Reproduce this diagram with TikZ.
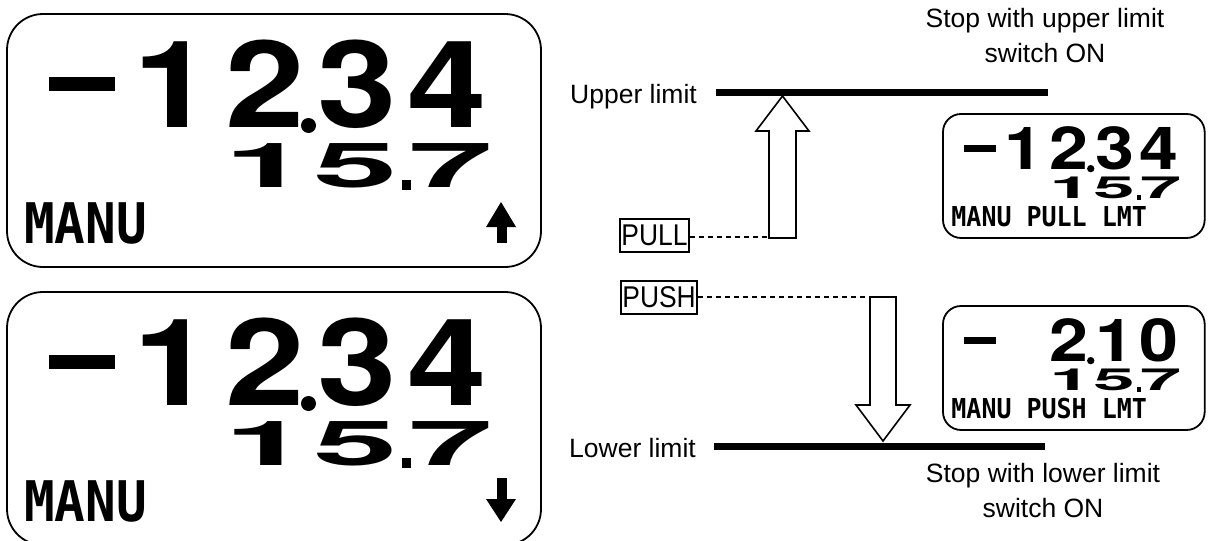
\documentclass[tikz,border=0pt]{standalone}
\usepackage{fontspec}
\setmainfont{Liberation Sans}
\newfontfamily\pixfont{DejaVu Sans Mono}
\newfontfamily\digfont{TeX Gyre Heros}
\tikzset{
  lcdframe/.style={draw, line width=1.8pt},
  bigdig/.style={inner sep=0pt, anchor=base, text height=86pt, text depth=0pt, font=\digfont\bfseries\fontsize{121}{121}\selectfont},
  middig/.style={inner sep=0pt, anchor=base, text height=44pt, text depth=0pt, font=\digfont\bfseries\fontsize{62}{62}\selectfont},
  pixtext/.style={inner sep=0pt, anchor=base west, text height=41pt, text depth=0pt, font=\pixfont\bfseries\fontsize{56}{56}\selectfont},
  lbl/.style={inner sep=0pt, font=\fontsize{26.5}{35}\selectfont},
  keybox/.style={draw, line width=1.8pt, inner sep=1.5pt, text height=24.5pt, text depth=5.5pt, font=\fontsize{30}{32}\selectfont},
  blockarrow/.style={draw, line width=1.6pt, fill=white, line join=miter},
  limitbar/.style={line width=7pt},
  dashline/.style={line width=1.2pt, dash pattern=on 5pt off 4pt}
}
% display core: #1 prefix, #2 corner radius, #3-#6 digits
\newcommand\lcdcore[6]{%
  \draw[lcdframe, rounded corners=#2] (0,0) rectangle (534,253);
  \fill (42,63) rectangle (108,77);
  \node[bigdig] (#1-d1) at (166,113) {\scalebox{1.18}[1]{#3}};
  \node[bigdig] (#1-d2) at (258,113) {\scalebox{1.18}[1]{#4}};
  \node[bigdig] (#1-d3) at (350,113) {\scalebox{1.18}[1]{#5}};
  \node[bigdig] (#1-d4) at (440,113) {\scalebox{1.18}[1]{#6}};
  \fill (301.5,111.5) circle (7.5);
  \node[middig] (#1-e1) at (260,173) {\scalebox{2.45}[1]{1}};
  \node[middig] (#1-e2) at (349,173) {\scalebox{2.45}[1]{5}};
  \node[middig] (#1-e3) at (444,173) {\scalebox{2.45}[1]{7}};
  \fill (395,166) rectangle (404,176);
}
\begin{document}
\begin{tikzpicture}[x=1pt, y=-1pt]
\useasboundingbox (0,0) rectangle (1211,541);
\clip (0,0) rectangle (1211,541);

% big display 1 (up)
\begin{scope}[shift={(7,14)}]
  \lcdcore{bd1}{36pt}{1}{2}{3}{4}
  \node[pixtext] (bd1-txt) at (17,229) {\scalebox{0.91}[1]{MANU}};
  \fill (479,213) -- (494,188) -- (509,213) -- cycle;
  \fill (490,212) rectangle (500,229);
\end{scope}

% big display 2 (down)
\begin{scope}[shift={(7,292)}]
  \lcdcore{bd2}{36pt}{1}{2}{3}{4}
  \node[pixtext] (bd2-txt) at (17,229) {\scalebox{0.91}[1]{MANU}};
  \fill (490,186) rectangle (500,209);
  \fill (479,207) -- (509,207) -- (494,230) -- cycle;
\end{scope}

% small display 1
\begin{scope}[shift={(943,114)}, scale=0.49, transform shape]
  \lcdcore{sd1}{18pt}{1}{2}{3}{4}
  \node[pixtext] (sd1-txt) at (17,229) {\scalebox{0.91}[1]{MANU PULL LMT}};
\end{scope}

% small display 2
\begin{scope}[shift={(943,306)}, scale=0.49, transform shape]
  \lcdcore{sd2}{18pt}{}{2}{1}{0}
  \node[pixtext] (sd2-txt) at (17,229) {\scalebox{0.91}[1]{MANU PUSH LMT}};
\end{scope}

% limits
\node[lbl, anchor=base] (uplbl) at (633.5,103) {Upper limit};
\coordinate (ubar-l) at (716,92.5);
\coordinate (ubar-r) at (1048,92.5);
\draw[limitbar] (ubar-l) -- (ubar-r);
\node[lbl, anchor=base] (lolbl) at (632.5,457) {Lower limit};
\coordinate (lbar-l) at (714,446.5);
\coordinate (lbar-r) at (1045,446.5);
\draw[limitbar] (lbar-l) -- (lbar-r);

\node[lbl, align=center] (stopup) at (1045,36) {Stop with upper limit\\switch ON};
\node[lbl, align=center] (stoplo) at (1043,491) {Stop with lower limit\\switch ON};

% block arrows
\draw[blockarrow] (769,238) -- (769,131) -- (756,131) -- (782.5,96) -- (809,131) -- (796,131) -- (796,238) -- cycle;
\draw[blockarrow] (870,297) -- (870,405) -- (856,405) -- (883,441) -- (910,405) -- (896,405) -- (896,297) -- cycle;

% keys
\node[keybox, anchor=west] (pull) at (619,235.5) {\scalebox{0.88}[1]{PULL}};
\coordinate (upfoot) at (769,237);
\draw[dashline] (pull.east |- upfoot) -- (upfoot);
\node[keybox, anchor=west] (push) at (620,297.5) {\scalebox{0.88}[1]{PUSH}};
\coordinate (dnhead) at (870,297);
\draw[dashline] (push.east |- dnhead) -- (dnhead);
\end{tikzpicture}
\end{document}
